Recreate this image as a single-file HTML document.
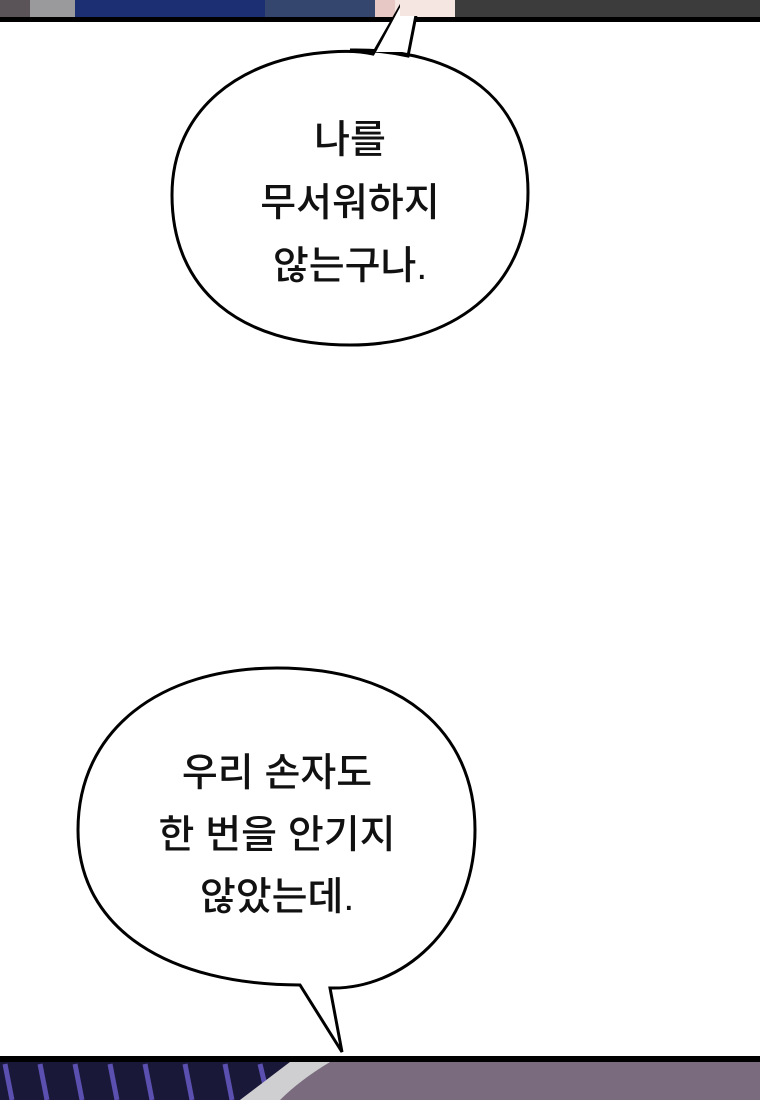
<!DOCTYPE html>
<html><head><meta charset="utf-8"><style>
body{margin:0;width:760px;height:1100px;overflow:hidden;background:#fff}
svg{display:block}
text{font-family:"Liberation Sans","Noto Sans CJK KR",sans-serif;font-size:39px;fill:#111;text-anchor:middle;font-weight:500}
</style></head><body>
<svg width="760" height="1100" viewBox="0 0 760 1100">
<!-- top panel strip -->
<rect x="0" y="0" width="760" height="20" fill="#3a3a3c"/>
<rect x="0" y="0" width="30" height="20" fill="#5a5458"/>
<rect x="30" y="0" width="45" height="20" fill="#9a9a9c"/>
<rect x="75" y="0" width="190" height="20" fill="#1c2f72"/>
<rect x="265" y="0" width="110" height="20" fill="#34456e"/>
<rect x="375" y="0" width="20" height="20" fill="#e8c8c4"/>
<rect x="395" y="0" width="60" height="20" fill="#f6e6e2"/>
<rect x="455" y="0" width="305" height="20" fill="#3c3c3c"/>
<rect x="0" y="17" width="760" height="5" fill="#000"/>
<!-- bubble 1 with tail -->
<path d="M350,50 C460,48 528,100 528,192 C528,290 450,345 350,345 C240,345 172,290 172,195 C172,110 240,58 330,52 Q355,50 373,54 L404,0 L419,0 L408,56 C385,51 365,50 350,50 Z" fill="#fff" stroke="#000" stroke-width="3"/>
<path d="M376,52 L405,-2 L417,-2 L406,52 Z" fill="#fff"/>
<rect x="400" y="0" width="25" height="16" fill="#f6e6e2"/>
<text x="350" y="153">나를</text>
<text x="350" y="216">무서워하지</text>
<text x="350" y="279">않는구나.</text>
<!-- bubble 2 -->
<path d="M277,668 C400,668 475,730 475,830 C475,930 400,990 330,988 L342,1052 L300,985 C170,985 78,930 78,830 C78,730 160,668 277,668 Z" fill="#fff" stroke="#000" stroke-width="3"/>
<text x="277" y="786">우리 손자도</text>
<text x="277" y="848">한 번을 안기지</text>
<text x="277" y="910">않았는데.</text>
<!-- bottom panel -->
<rect x="0" y="1057" width="760" height="43" fill="#7a6c7e"/>
<path d="M0,1062 L290,1062 L240,1100 L0,1100 Z" fill="#1a1838"/>
<g stroke="#5b4fb0" stroke-width="5">
<line x1="5" y1="1064" x2="12" y2="1100"/><line x1="40" y1="1064" x2="47" y2="1100"/><line x1="75" y1="1064" x2="82" y2="1100"/><line x1="110" y1="1064" x2="117" y2="1100"/><line x1="145" y1="1064" x2="152" y2="1100"/><line x1="185" y1="1064" x2="192" y2="1100"/><line x1="225" y1="1064" x2="232" y2="1100"/><line x1="260" y1="1064" x2="265" y2="1085"/>
</g>
<path d="M290,1062 L330,1062 Q300,1080 280,1100 L240,1100 Z" fill="#cfcfd2"/>
<rect x="0" y="1056" width="760" height="6" fill="#000"/>
</svg>
</body></html>
